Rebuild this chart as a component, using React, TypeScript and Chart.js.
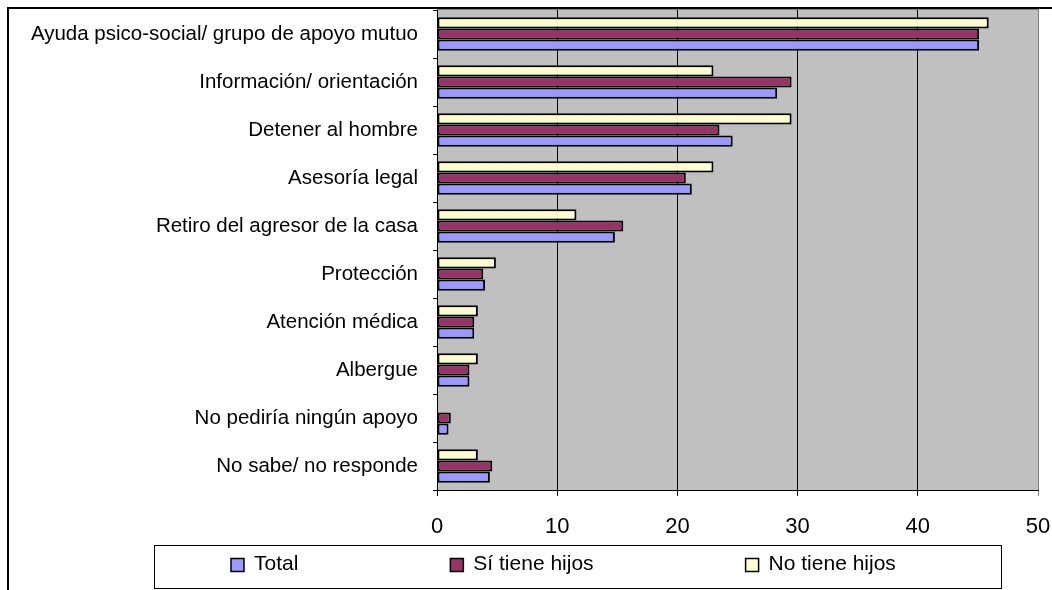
import React, { useEffect, useRef } from "react";
import { Chart, registerables } from "chart.js";

Chart.register(...registerables);

const categories = [
  "Ayuda psico-social/ grupo de apoyo mutuo",
  "Información/ orientación",
  "Detener al hombre",
  "Asesoría legal",
  "Retiro del agresor de la casa",
  "Protección",
  "Atención médica",
  "Albergue",
  "No pediría ningún apoyo",
  "No sabe/ no responde",
];

const totalValues = [45.1, 28.3, 24.6, 21.2, 14.8, 4.0, 3.1, 2.7, 0.96, 4.4];
const siTieneValues = [45.1, 29.5, 23.5, 20.7, 15.5, 3.85, 3.1, 2.7, 1.15, 4.6];
const noTieneValues = [45.9, 23.0, 29.5, 23.0, 11.6, 4.9, 3.4, 3.4, 0, 3.4];

const seriesLabels = ["Total", "Sí tiene hijos", "No tiene hijos"];
const xTickValues = [0, 10, 20, 30, 40, 50];

const FONT = "'Liberation Sans', Arial, sans-serif";

const plotBackground = {
  id: "plotBackground",
  beforeDraw(chart: any) {
    const { ctx, chartArea } = chart;
    ctx.save();
    ctx.strokeStyle = "#000";
    ctx.lineWidth = 2;
    ctx.strokeRect(8, 8, chart.width + 20, chart.height + 20);
    ctx.fillStyle = "#c0c0c0";
    ctx.fillRect(chartArea.left, chartArea.top, chartArea.right - chartArea.left, chartArea.bottom - chartArea.top);
    ctx.strokeStyle = "#808080";
    ctx.lineWidth = 1;
    ctx.strokeRect(chartArea.left + 0.5, chartArea.top - 0.5, chartArea.right - chartArea.left, chartArea.bottom - chartArea.top + 1);
    ctx.restore();
  },
};

const boxedLegend = {
  id: "boxedLegend",
  afterDraw(chart: any) {
    const { ctx } = chart;
    const boxL = 154, boxT = 545, boxR = 1001, boxB = 588;
    ctx.save();
    ctx.fillStyle = "#fff";
    ctx.fillRect(boxL, boxT, boxR - boxL, boxB - boxT);
    ctx.strokeStyle = "#000";
    ctx.lineWidth = 1;
    ctx.strokeRect(boxL + 0.5, boxT + 0.5, boxR - boxL, boxB - boxT);
    ctx.font = `21px ${FONT}`;
    ctx.textBaseline = "middle";
    ctx.textAlign = "left";
    const ds = chart.data.datasets.slice().reverse();
    let x = 231;
    const cy = 565;
    const size = 13;
    ds.forEach((d: any) => {
      ctx.fillStyle = d.backgroundColor;
      ctx.fillRect(x, cy - size / 2, size, size);
      ctx.strokeStyle = "#000";
      ctx.lineWidth = 1.5;
      ctx.strokeRect(x, cy - size / 2, size, size);
      ctx.fillStyle = "#000";
      const tx = x + size + 10;
      ctx.fillText(d.label, tx, cy - 1);
      x = tx + ctx.measureText(d.label).width + 152;
    });
    ctx.restore();
  },
};

function noPadding(scale: any) {
  scale.paddingTop = 0;
  scale.paddingBottom = 0;
  scale.paddingLeft = 0;
  scale.paddingRight = 0;
}

export default function App() {
  const canvasRef = useRef<HTMLCanvasElement | null>(null);

  useEffect(() => {
    if (!canvasRef.current) return;
    const chart = new Chart(canvasRef.current, {
      type: "bar",
      data: {
        labels: categories,
        datasets: [
          {
            label: seriesLabels[2],
            data: noTieneValues,
            backgroundColor: "#ffffcc",
            borderColor: "#000",
            borderWidth: 2,
            borderSkipped: false,
          },
          {
            label: seriesLabels[1],
            data: siTieneValues,
            backgroundColor: "#993366",
            borderColor: "#000",
            borderWidth: 2,
            borderSkipped: false,
          },
          {
            label: seriesLabels[0],
            data: totalValues,
            backgroundColor: "#9999ff",
            borderColor: "#000",
            borderWidth: 2,
            borderSkipped: false,
          },
        ],
      },
      options: {
        indexAxis: "y",
        responsive: false,
        animation: false,
        layout: { padding: { left: 0, top: 10, right: 14, bottom: 0 } },
        datasets: { bar: { categoryPercentage: 0.7, barPercentage: 1 } },
        plugins: {
          legend: { display: false },
          tooltip: { enabled: false },
        },
        scales: {
          x: {
            min: 0,
            max: 50,
            afterFit(scale: any) {
              scale.height = 100;
              noPadding(scale);
            },
            afterBuildTicks(scale: any) {
              scale.ticks = xTickValues.map((v) => ({ value: v }));
            },
            grid: {
              color: (c: any) => (c.index === 5 ? "#808080" : "#000"),
              lineWidth: 1,
              tickLength: 6,
              drawTicks: true,
            },
            border: { color: "#000", width: 1 },
            ticks: {
              color: "#000",
              font: { family: FONT, size: 22 },
              padding: 18,
              maxRotation: 0,
            },
          },
          y: {
            afterFit(scale: any) {
              scale.width = 437;
              noPadding(scale);
            },
            grid: {
              offset: true,
              drawOnChartArea: false,
              drawTicks: true,
              tickLength: 4,
              color: "#000",
            },
            border: { color: "#000", width: 1 },
            ticks: {
              color: "#000",
              font: { family: FONT, size: 20.5 },
              padding: 15,
              autoSkip: false,
            },
          },
        },
      },
      plugins: [plotBackground, boxedLegend],
    });
    return () => chart.destroy();
  }, []);

  return (
    <div style={{ position: "fixed", left: 0, top: 0, width: 1052, height: 590 }}>
      <canvas ref={canvasRef} width={1052} height={590} />
    </div>
  );
}
